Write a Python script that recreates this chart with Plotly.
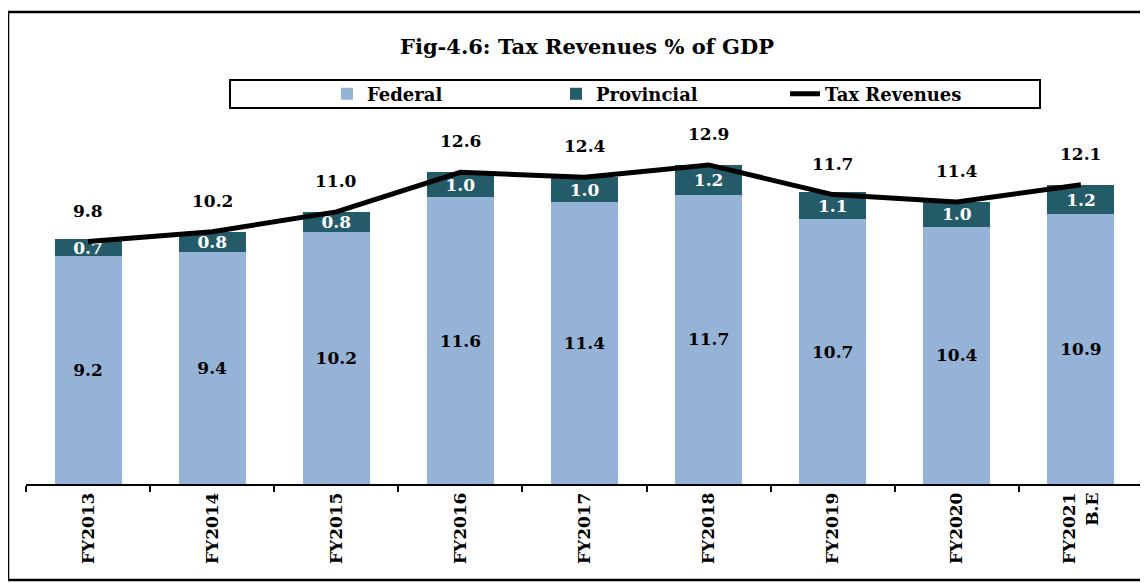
import plotly.graph_objects as go

categories = ["FY2013", "FY2014", "FY2015", "FY2016", "FY2017", "FY2018", "FY2019", "FY2020", "FY2021<br>B.E"]
federal = [9.2, 9.4, 10.2, 11.6, 11.4, 11.7, 10.7, 10.4, 10.9]
provincial = [0.7, 0.8, 0.8, 1.0, 1.0, 1.2, 1.1, 1.0, 1.2]
tax_revenues = [9.8, 10.2, 11.0, 12.6, 12.4, 12.9, 11.7, 11.4, 12.1]

FONT = "DejaVu Serif"
fed_color = "#95B3D7"
prov_color = "#235B68"

# page offset (body margin) compensation
OFF = 8
W, H = 1148 - OFF, 583 - OFF
PL, PR = 26 - OFF, 1143 - OFF      # plot left/right in figure px
PT, PB = 113 - OFF, 484 - OFF      # plot top/bottom in figure px
PW, PH = PR - PL, PB - PT


def px(xs):
    return (xs - OFF - PL) / PW


def py(ys):
    return (PB - (ys - OFF)) / PH


fig = go.Figure()
fig.add_trace(go.Bar(
    x=categories, y=federal, name="Federal", marker=dict(color=fed_color, line=dict(width=0)),
    text=[f"{v:.1f}" for v in federal], textposition="inside", insidetextanchor="middle",
    textfont=dict(family=FONT, size=17, color="black", weight="bold"),
))
fig.add_trace(go.Bar(
    x=categories, y=provincial, name="Provincial", marker=dict(color=prov_color, line=dict(width=0)),
    text=[f"{v:.1f}" for v in provincial], textposition="inside", insidetextanchor="middle",
    textfont=dict(family=FONT, size=17, color="white", weight="bold"),
))
fig.add_trace(go.Scatter(
    x=categories, y=tax_revenues, name="Tax Revenues", mode="lines",
    line=dict(color="black", width=5),
))

for c, v in zip(categories, tax_revenues):
    fig.add_annotation(x=c, y=v, text=f"{v:.1f}", showarrow=False, yshift=31,
                       font=dict(family=FONT, size=17, color="black", weight="bold"))

# legend frame and outer frame
fig.add_shape(type="rect", xref="paper", yref="paper",
              x0=px(230), x1=px(1040), y0=py(108), y1=py(80),
              line=dict(color="black", width=2), fillcolor="rgba(0,0,0,0)")
fig.add_shape(type="rect", xref="paper", yref="paper",
              x0=px(8), x1=px(1165), y0=py(580), y1=py(12),
              line=dict(color="black", width=2.5), fillcolor="rgba(0,0,0,0)")

fig.update_layout(
    width=W, height=H,
    barmode="stack", bargap=0.46,
    plot_bgcolor="white", paper_bgcolor="white",
    margin=dict(l=PL, r=W - PR, t=PT, b=H - PB),
    title=dict(text="Fig-4.6: Tax Revenues % of GDP", x=(587 - OFF) / W, xref="container", xanchor="center",
               y=1 - (47 - OFF) / H, yref="container", yanchor="middle",
               font=dict(family=FONT, size=21, color="black", weight="bold")),
    legend=dict(orientation="h", x=px(327), xanchor="left",
                y=py(94), yanchor="middle",
                font=dict(family=FONT, size=18, color="black", weight="bold"),
                bgcolor="rgba(0,0,0,0)", entrywidth=184, traceorder="normal"),
    uniformtext=dict(minsize=17, mode="show"),
    showlegend=True,
)
fig.update_xaxes(type="category", showline=True, linecolor="black", linewidth=1.5,
                 ticks="outside", tickson="boundaries", ticklen=6, tickcolor="black", tickwidth=1.5,
                 tickangle=-90, tickfont=dict(family=FONT, size=17, color="black", weight="bold"),
                 showgrid=False, fixedrange=True)
fig.update_yaxes(range=[0, 15], visible=False, showgrid=False, fixedrange=True)

fig.write_html("out.html")
